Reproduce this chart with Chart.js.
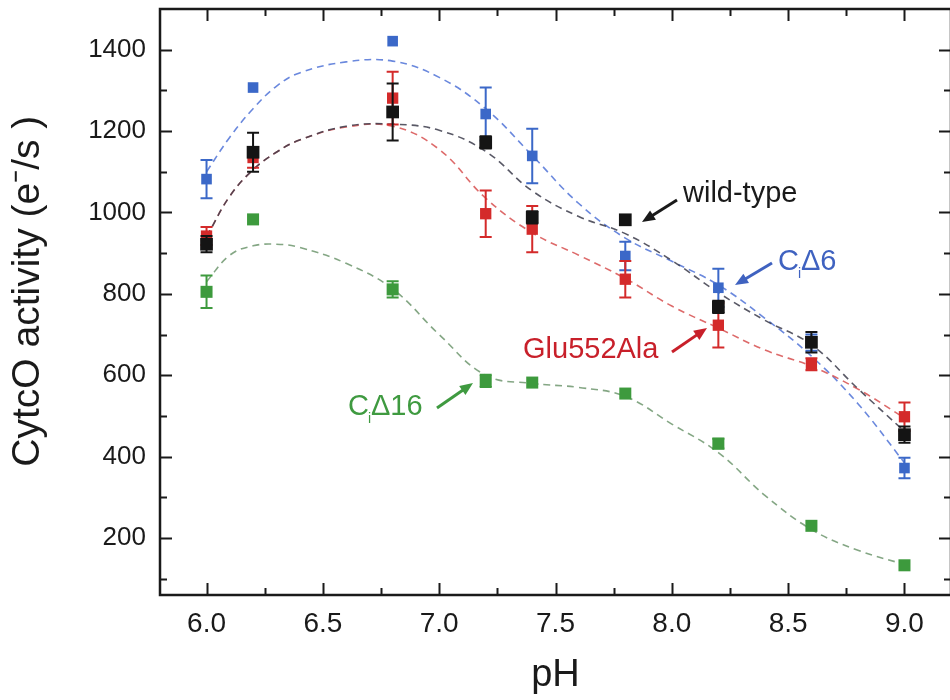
<!DOCTYPE html>
<html>
<head>
<meta charset="utf-8">
<script src="https://cdn.jsdelivr.net/npm/chart.js@4.4.0/dist/chart.umd.min.js"></script>
<style>
  html, body { margin: 0; padding: 0; background: #fff; overflow: hidden; }
  #wrap { width: 960px; height: 700px; }
</style>
</head>
<body>
<div id="wrap"><canvas id="grafico" width="960" height="700"></canvas></div>
<script>
/*************************************************
 * DADOS
 *************************************************/
const ph = [6.0, 6.2, 6.8, 7.2, 7.4, 7.8, 8.2, 8.6, 9.0];

const wildType    = [922, 1148, 1247, 1172, 988, 982, 768, 681, 454];
const wildTypeErr = [20, 48, 70, 15, 15, 0, 15, 25, 20];
const glu552Ala    = [942, 1135, 1281, 997, 959, 836, 723, 627, 498];
const glu552AlaErr = [22, 25, 65, 57, 57, 45, 55, 15, 35];
const ciDelta6    = [1082, 1307, 1421, 1242, 1139, 893, 815, 680, 372];
const ciDelta6Err = [47, 0, 0, 65, 67, 35, 47, 20, 25];
const ciDelta16    = [805, 983, 811, 586, 582, 555, 432, 230, 133];
const ciDelta16Err = [40, 0, 20, 15, 0, 0, 12, 0, 0];

// curvas tracejadas
const fitPh = [6.0, 6.1, 6.2, 6.3, 6.4, 6.6, 6.8, 7.0, 7.2, 7.4, 7.6, 7.8, 8.0, 8.2, 8.4, 8.6, 8.8, 9.0];
const fitWildType  = [940, 1040, 1105, 1148, 1178, 1212, 1217, 1202, 1150, 1053, 990, 948, 882, 803, 735, 675, 567, 462];
const fitGlu552Ala = [940, 1040, 1105, 1148, 1178, 1210, 1212, 1155, 1035, 950, 895, 838, 770, 716, 662, 622, 566, 495];
const fitCiDelta6  = [1100, 1185, 1255, 1310, 1343, 1370, 1372, 1332, 1255, 1140, 1022, 937, 880, 822, 740, 647, 530, 385];
const fitCiDelta16 = [830, 895, 918, 922, 914, 875, 812, 700, 600, 580, 570, 548, 480, 410, 305, 221, 170, 135];

// marcas dos eixos
const xMajor = [6.0, 6.5, 7.0, 7.5, 8.0, 8.5, 9.0];
const xMinor = [6.25, 6.75, 7.25, 7.75, 8.25, 8.75];
const yMajor = [200, 400, 600, 800, 1000, 1200, 1400];
const yMinor = [100, 300, 500, 700, 900, 1100, 1300];

/*************************************************
 * UTILIDADES
 *************************************************/
const FONTE = "'Liberation Sans', Arial, Helvetica, sans-serif";

function pontos(xs, ys) {
  return xs.map((x, i) => ({ x, y: ys[i] }));
}

function serie(label, ys, errs, cor, raio, ordem) {
  return {
    label,
    data: pontos(ph, ys),
    errors: errs,
    pointStyle: 'rect',
    pointRadius: raio,
    backgroundColor: cor,
    borderColor: cor,
    borderWidth: 0,
    showLine: false,
    order: ordem
  };
}

function curva(ys, cor, ordem) {
  return {
    data: pontos(fitPh, ys),
    showLine: true,
    pointRadius: 0,
    borderColor: cor,
    borderWidth: 1.6,
    borderDash: [7, 5],
    tension: 0.4,
    fill: false,
    order: ordem
  };
}

function semPadding(s) {
  s.paddingTop = 0;
  s.paddingBottom = 0;
  s.paddingLeft = 0;
  s.paddingRight = 0;
}

function seta(ctx, x1, y1, x2, y2, cor) {
  const ang = Math.atan2(y2 - y1, x2 - x1);
  const head = 13, half = 5.5;
  const c = Math.cos(ang), s = Math.sin(ang);
  ctx.strokeStyle = cor;
  ctx.fillStyle = cor;
  ctx.lineWidth = 3;
  ctx.beginPath();
  ctx.moveTo(x1, y1);
  ctx.lineTo(x2 - head * 0.8 * c, y2 - head * 0.8 * s);
  ctx.stroke();
  ctx.beginPath();
  ctx.moveTo(x2, y2);
  ctx.lineTo(x2 - head * c + half * s, y2 - head * s - half * c);
  ctx.lineTo(x2 - head * c - half * s, y2 - head * s + half * c);
  ctx.closePath();
  ctx.fill();
}

// C com i subscrito + resto
function textoCi(ctx, x, y, resto, cor) {
  ctx.fillStyle = cor;
  ctx.font = `29px ${FONTE}`;
  ctx.fillText('C', x, y);
  const w = ctx.measureText('C').width;
  ctx.font = `14px ${FONTE}`;
  ctx.fillText('i', x + w - 1, y + 8);
  ctx.font = `29px ${FONTE}`;
  ctx.fillText(resto, x + w + 2, y);
}

/*************************************************
 * PLUGINS
 *************************************************/
const errorBars = {
  id: 'errorBars',
  beforeDatasetDraw(chart, args) {
    const ds = chart.data.datasets[args.index];
    if (!ds.errors) return;
    const { ctx, scales: { x, y } } = chart;
    ctx.save();
    ctx.strokeStyle = ds.borderColor;
    ctx.lineWidth = 2;
    ds.data.forEach((p, i) => {
      const e = ds.errors[i];
      if (!e) return;
      const px = x.getPixelForValue(p.x);
      const top = y.getPixelForValue(p.y + e);
      const bot = y.getPixelForValue(p.y - e);
      ctx.beginPath();
      ctx.moveTo(px, top); ctx.lineTo(px, bot);
      ctx.moveTo(px - 6, top); ctx.lineTo(px + 6, top);
      ctx.moveTo(px - 6, bot); ctx.lineTo(px + 6, bot);
      ctx.stroke();
    });
    ctx.restore();
  }
};

const moldura = {
  id: 'moldura',
  afterDatasetsDraw(chart) {
    const { ctx, chartArea: a, scales: { x, y } } = chart;
    ctx.save();
    ctx.strokeStyle = '#1a1a1a';
    ctx.lineWidth = 2;
    const tx = (v, len) => {
      const px = Math.round(x.getPixelForValue(v)) + 0.5;
      ctx.beginPath();
      ctx.moveTo(px, a.bottom); ctx.lineTo(px, a.bottom - len);
      ctx.moveTo(px, a.top); ctx.lineTo(px, a.top + len);
      ctx.stroke();
    };
    const ty = (v, len) => {
      const py = Math.round(y.getPixelForValue(v)) + 0.5;
      ctx.beginPath();
      ctx.moveTo(a.left, py); ctx.lineTo(a.left + len, py);
      ctx.moveTo(a.right, py); ctx.lineTo(a.right - len, py);
      ctx.stroke();
    };
    xMajor.forEach(v => tx(v, 12));
    xMinor.forEach(v => tx(v, 7));
    yMajor.forEach(v => ty(v, 12));
    yMinor.forEach(v => ty(v, 7));
    ctx.lineWidth = 2.5;
    ctx.strokeRect(a.left, a.top, a.right - a.left, a.bottom - a.top);
    ctx.restore();
  }
};

const anotacoes = {
  id: 'anotacoes',
  afterDraw(chart) {
    const ctx = chart.ctx;
    ctx.save();
    ctx.textBaseline = 'alphabetic';
    ctx.textAlign = 'left';

    ctx.fillStyle = '#1a1a1a';
    ctx.font = `29px ${FONTE}`;
    ctx.fillText('wild-type', 683, 202);
    seta(ctx, 677, 200, 642, 222, '#1a1a1a');

    textoCi(ctx, 778, 270, 'Δ6', '#3f62c0');
    seta(ctx, 772, 263, 735, 285, '#3f62c0');

    ctx.fillStyle = '#c8202a';
    ctx.font = `29px ${FONTE}`;
    ctx.fillText('Glu552Ala', 523, 358);
    seta(ctx, 672, 352, 707, 328, '#c8202a');

    textoCi(ctx, 348, 415, 'Δ16', '#3f9a40');
    seta(ctx, 437, 408, 473, 383, '#3f9a40');

    ctx.restore();
  }
};

/*************************************************
 * GRÁFICO
 *************************************************/
new Chart(document.getElementById('grafico').getContext('2d'), {
  type: 'scatter',
  data: {
    datasets: [
      serie('wild-type', wildType, wildTypeErr, '#141414', 9, 0),
      serie('Glu552Ala', glu552Ala, glu552AlaErr, '#d42a2a', 8, 1),
      serie('CiΔ6', ciDelta6, ciDelta6Err, '#3b68c8', 7.5, 2),
      serie('CiΔ16', ciDelta16, ciDelta16Err, '#3d9a3d', 8.5, 3),
      curva(fitWildType, 'rgba(60,60,75,0.85)', 4),
      curva(fitGlu552Ala, 'rgba(215,80,80,0.85)', 5),
      curva(fitCiDelta6, 'rgba(80,115,215,0.85)', 6),
      curva(fitCiDelta16, 'rgba(110,150,110,0.85)', 7)
    ]
  },
  options: {
    responsive: false,
    animation: false,
    events: [],
    devicePixelRatio: 1,
    layout: { padding: { top: 9, right: 0, bottom: 0, left: 0 } },
    plugins: {
      legend: { display: false },
      tooltip: { enabled: false }
    },
    scales: {
      x: {
        type: 'linear',
        min: 5.8,
        max: 9.2,
        afterBuildTicks: s => { s.ticks = xMajor.map(v => ({ value: v })); },
        afterFit: s => { s.height = 105; semPadding(s); },
        grid: { display: false, drawTicks: false },
        border: { display: false },
        ticks: {
          padding: 12,
          color: '#1a1a1a',
          font: { family: FONTE, size: 28 },
          maxRotation: 0,
          callback: v => Number(v).toFixed(1)
        },
        title: {
          display: true,
          text: 'pH',
          color: '#1a1a1a',
          font: { family: FONTE, size: 38 },
          padding: { top: 0, bottom: 2 }
        }
      },
      y: {
        type: 'linear',
        min: 60,
        max: 1500,
        afterBuildTicks: s => { s.ticks = yMajor.map(v => ({ value: v })); },
        afterFit: s => { s.width = 160; semPadding(s); },
        grid: { display: false, drawTicks: false },
        border: { display: false },
        ticks: {
          padding: 14,
          color: '#1a1a1a',
          font: { family: FONTE, size: 26 },
          callback: v => String(v)
        },
        title: {
          display: true,
          text: '  CytcO activity (e⁻/s )',
          color: '#1a1a1a',
          font: { family: FONTE, size: 39 },
          padding: { top: 5, bottom: 0 }
        }
      }
    }
  },
  plugins: [errorBars, moldura, anotacoes]
});
</script>
</body>
</html>
